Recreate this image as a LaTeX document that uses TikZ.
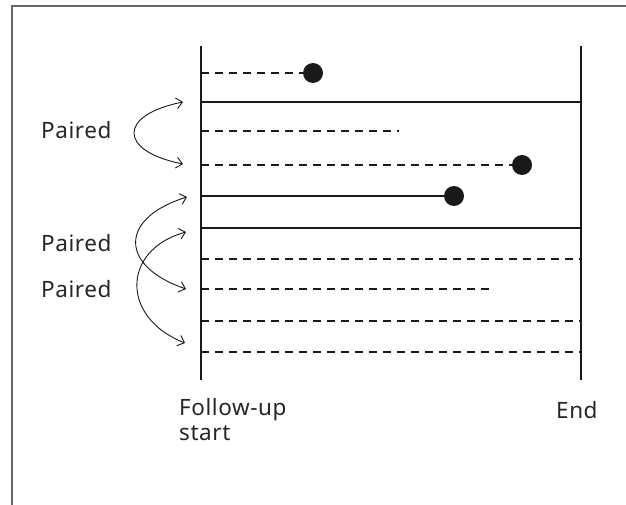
\documentclass[tikz,border=0pt]{standalone}
\usepackage{fontspec}
\setmainfont[LetterSpace=2.5]{Noto Sans}
\usetikzlibrary{arrows.meta}
\begin{document}
\begin{tikzpicture}[x=1pt,y=-1pt,
  frame/.style={draw=black!60, line width=1.2pt},
  axis/.style={line width=2.6pt, black!90},
  solidrow/.style={line width=1.9pt, black!90},
  dashrow/.style={line width=1.9pt, black!90, dash pattern=on 8pt off 6pt},
  dot/.style={circle, fill=black!90, inner sep=0pt, minimum size=20pt},
  pair/.style={line width=0.9pt, black!90,
    {Straight Barb[length=6pt,width=11pt]}-{Straight Barb[length=6pt,width=11pt]}},
  lbl/.style={font=\fontsize{22.5}{26}\selectfont, inner sep=0pt, text=black!85}
]
\useasboundingbox (0,0) rectangle (626,505);

% outer frame (top and left edges only)
\draw[frame] (626,6) -- (12,6) -- (12,505);

% follow-up start and end lines
\coordinate (s-top) at (201,46);  \coordinate (s-bot) at (201,380);
\coordinate (e-top) at (581,46);  \coordinate (e-bot) at (581,380);
\draw[axis] (s-top) -- (s-bot);
\draw[axis] (e-top) -- (e-bot);

% row starts on the start line
\foreach \i/\y in {1/73,2/102,3/131,4/165,5/196,6/228,7/259,8/289,9/321,10/352}
  \coordinate (r\i) at (201,\y);
% row ends on the end line
\foreach \i/\y in {2/102,6/228,7/259,9/321,10/352}
  \coordinate (q\i) at (581,\y);

% events
\node[dot] (d1) at (313,73) {};
\node[dot] (d4) at (522,165) {};
\node[dot] (d5) at (454,196) {};
\coordinate (c3) at (399,131);
\coordinate (c8) at (492,289);

% rows
\draw[dashrow] (r1) -- (d1);
\draw[solidrow] (r2) -- (q2);
\draw[dashrow] (r3) -- (c3);
\draw[dashrow] (r4) -- (d4);
\draw[solidrow] (r5) -- (d5);
\draw[solidrow] (r6) -- (q6);
\draw[dashrow] (r7) -- (q7);
\draw[dashrow] (r8) -- (c8);
\draw[dashrow] (r9) -- (q9);
\draw[dashrow] (r10) -- (q10);

% pairing arrows
\coordinate (a1) at (183,102); \coordinate (b1) at (183,164);
\coordinate (a2) at (187,197); \coordinate (b2) at (186,289);
\coordinate (a3) at (186,232); \coordinate (b3) at (185,343);
\draw[pair] (a1) .. controls (118,115) and (118,151) .. (b1);
\draw[pair] (a2) .. controls (119,218) and (119,266) .. (b2);
\draw[pair] (a3) .. controls (121,250) and (121,318) .. (b3);

% labels
\node[lbl, anchor=base west] (p1) at (41,139) {Paired};
\node[lbl, anchor=base west] (p2) at (41,251) {Paired};
\node[lbl, anchor=base west] (p3) at (41,297) {Paired};
\node[lbl, anchor=base west] (fu) at (179,415) {Follow-up};
\node[lbl, anchor=base west] (st) at (179,440) {start};
\node[lbl, anchor=base west] (en) at (556,418) {End};
\end{tikzpicture}
\end{document}
